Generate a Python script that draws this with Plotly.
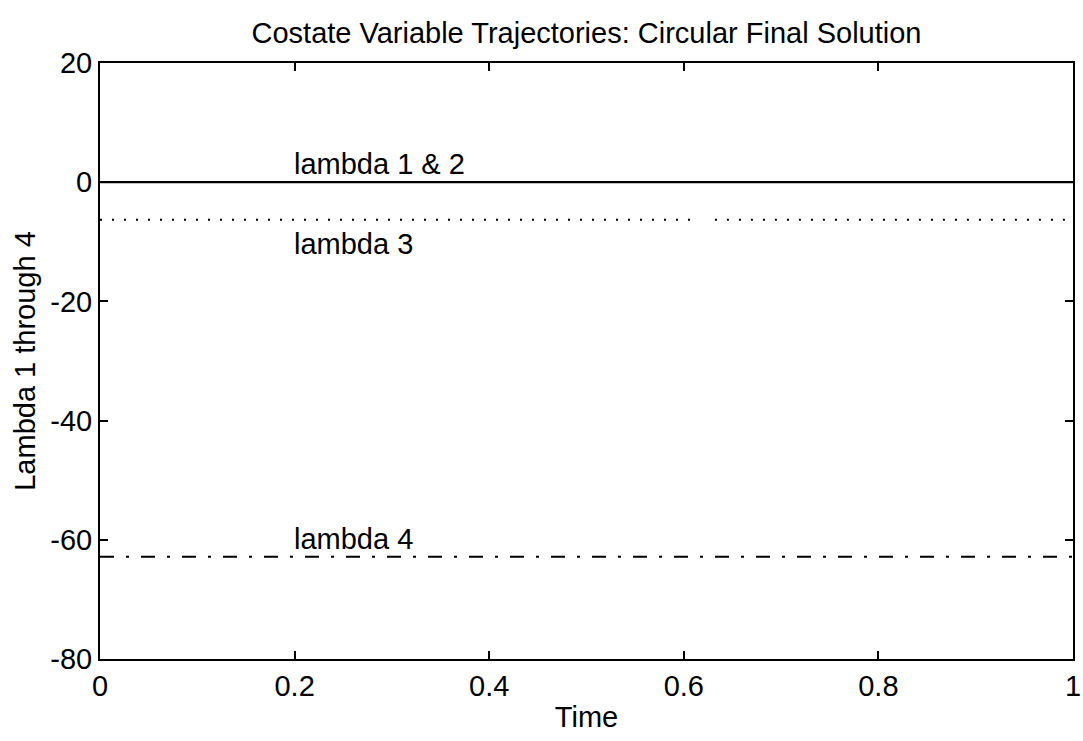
import plotly.graph_objects as go

t = [0.0, 0.2, 0.4, 0.6, 0.8, 1.0]
lambda12 = [0.0, 0.0, 0.0, 0.0, 0.0, 0.0]
lambda3_t = [0.0, 0.612, None, 0.632, 1.0]
lambda3 = [-6.28, -6.28, None, -6.28, -6.28]
lambda4 = [-62.83, -62.83, -62.83, -62.83, -62.83, -62.83]

xticks = [0, 0.2, 0.4, 0.6, 0.8, 1]
xticklabels = ["0", "0.2", "0.4", "0.6", "0.8", "1"]
yticks = [-80, -60, -40, -20, 0, 20]
yticklabels = ["-80", "-60", "-40", "-20", "0", "20"]

font = "Liberation Sans, Arial, Helvetica, sans-serif"
fs = 29

fig = go.Figure()
fig.add_trace(go.Scatter(x=t, y=lambda12, mode="lines",
                         line=dict(color="black", width=2.2), showlegend=False))
fig.add_trace(go.Scatter(x=lambda3_t, y=lambda3, mode="lines", connectgaps=False,
                         line=dict(color="black", width=2, dash="2px,10px"), showlegend=False))
fig.add_trace(go.Scatter(x=t, y=lambda4, mode="lines",
                         line=dict(color="black", width=2, dash="14px,12px,3px,12px"), showlegend=False))

fig.add_annotation(x=0.197, y=0, text="lambda 1 & 2", showarrow=False,
                   xanchor="left", yanchor="bottom", yshift=0, font=dict(size=fs, color="black", family=font))
fig.add_annotation(x=0.197, y=-6.28, text="lambda 3", showarrow=False,
                   xanchor="left", yanchor="top", yshift=-6, font=dict(size=fs, color="black", family=font))
fig.add_annotation(x=0.197, y=-62.83, text="lambda 4", showarrow=False,
                   xanchor="left", yanchor="bottom", yshift=0, font=dict(size=fs, color="black", family=font))

fig.update_layout(
    width=1083, height=741,
    margin=dict(l=100, r=10, t=63, b=82, autoexpand=False),
    paper_bgcolor="white", plot_bgcolor="white",
    font=dict(family=font, color="black", size=fs),
    title=dict(text="Costate Variable Trajectories: Circular Final Solution",
               x=0.5, xanchor="center", xref="paper", y=1 - 33 / 741, yanchor="middle",
               font=dict(size=fs, color="black", family=font)),
)
fig.update_xaxes(range=[0, 1.00001], tickvals=xticks, ticktext=xticklabels,
                 ticklabeloverflow="allow", automargin=False,
                 showgrid=False, zeroline=False, showline=True, linecolor="black", linewidth=2,
                 mirror="allticks", ticks="inside", ticklen=8, tickcolor="black", tickwidth=1.5,
                 tickfont=dict(size=fs), title=dict(text="Time", font=dict(size=fs), standoff=6))
fig.update_yaxes(range=[-80, 20], tickvals=yticks, ticktext=yticklabels, automargin=False,
                 showgrid=False, zeroline=False, showline=True, linecolor="black", linewidth=2,
                 mirror="allticks", ticks="inside", ticklen=8, tickcolor="black", tickwidth=1.5,
                 tickfont=dict(size=fs), title=dict(text="Lambda 1 through 4", font=dict(size=fs), standoff=6))

fig.write_html("out.html", config={"displayModeBar": False},
               post_script="document.body.style.margin='0px';document.body.style.overflow='hidden';")
